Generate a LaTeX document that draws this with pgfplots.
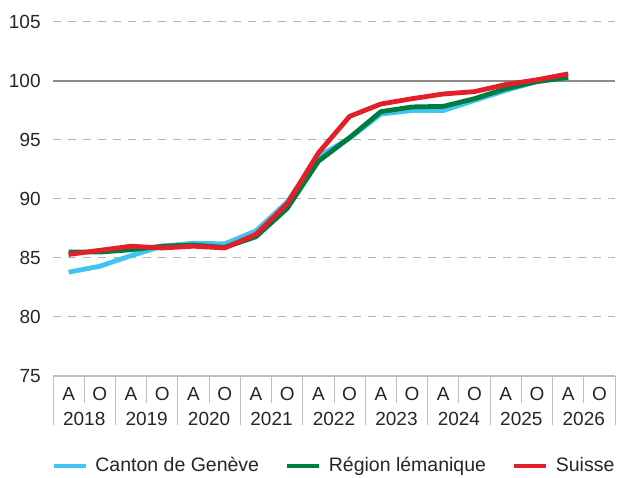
\documentclass[border=0pt]{standalone}
\usepackage{fontspec}
\setmainfont{Liberation Sans}
\usepackage{pgfplots}
\pgfplotsset{compat=1.18}
\definecolor{cblue}{HTML}{41C4F2}
\definecolor{cgreen}{HTML}{007C3E}
\definecolor{cred}{HTML}{E3202A}
\definecolor{gridgray}{HTML}{B4B4B4}
\definecolor{linegray}{HTML}{8C8C8C}
\definecolor{boxgray}{HTML}{BEBEBE}
\begin{document}
\fontsize{18.5}{22}\selectfont
\begin{tikzpicture}
\useasboundingbox (0,0) rectangle (617pt,478pt);
\begin{axis}[
  at={(53pt,102pt)}, anchor=south west,
  width=562pt, height=354pt, scale only axis,
  xmin=-0.5, xmax=17.5, ymin=75, ymax=105,
  ytick={75,80,...,105},
  xtick={0,...,17},
  xticklabels={A,O,A,O,A,O,A,O,A,O,A,O,A,O,A,O,A,O},
  major tick length=0pt,
  axis line style={draw=none},
  ymajorgrids,
  major grid style={gridgray, line width=1pt, dash pattern=on 8pt off 7pt},
  /pgf/number format/assume math mode=true,
  tick label style={font=\fontsize{19}{22}\selectfont, text=black!85},
  yticklabel style={xshift=-6pt},
  xticklabel style={yshift=-5pt},
  clip=false,
  legend columns=3,
  legend style={at={(0.5,-0.254)}, anchor=center, draw=none, fill=none,
    font=\fontsize{19.5}{22}\selectfont, text=black!85,
    /tikz/every odd column/.append style={column sep=5pt},
    /tikz/every even column/.append style={column sep=24pt}},
  legend cell align=left,
  legend image code/.code={\draw[#1, line width=4.8pt] (0pt,0pt) -- (32pt,0pt);},
  every axis plot/.append style={line width=4.8pt, line join=round},
]
\draw[linegray, line width=1.2pt] (axis cs:-0.5,100) -- (axis cs:17.5,100);
\draw[boxgray, line width=1.2pt] (axis cs:-0.5,75) -- (axis cs:17.5,75);
\pgfplotsinvokeforeach{0,...,9}{
  \draw[boxgray, line width=1pt] (axis cs:{2*#1-0.5},75) -- ++(0pt,-49pt);
}
\pgfplotsinvokeforeach{0,...,8}{
  \draw[boxgray, line width=1pt] (axis cs:{2*#1+0.5},75) -- ++(0pt,-27pt);
  \node[text=black!85, font=\fontsize{19}{22}\selectfont] at (axis cs:{2*#1+0.5},75) [yshift=-43pt] {\the\numexpr2018+#1\relax};
}
\addplot[cblue] coordinates {
(0,83.8) (1,84.3) (2,85.2) (3,86.0) (4,86.25) (5,86.2) (6,87.3) (7,89.75)
(8,93.6) (9,95.15) (10,97.2) (11,97.5) (12,97.5) (13,98.35) (14,99.2) (15,99.95) (16,100.3)};
\addlegendentry{Canton de Genève}
\addplot[cgreen] coordinates {
(0,85.5) (1,85.5) (2,85.7) (3,86.0) (4,86.1) (5,85.9) (6,86.8) (7,89.2)
(8,93.2) (9,95.2) (10,97.4) (11,97.8) (12,97.85) (13,98.5) (14,99.35) (15,99.95) (16,100.3)};
\addlegendentry{Région lémanique}
\addplot[cred] coordinates {
(0,85.3) (1,85.65) (2,86.0) (3,85.85) (4,86.0) (5,85.85) (6,87.0) (7,89.6)
(8,93.9) (9,97.0) (10,98.05) (11,98.5) (12,98.9) (13,99.1) (14,99.7) (15,100.1) (16,100.6)};
\addlegendentry{Suisse}
\end{axis}
\end{tikzpicture}
\end{document}
